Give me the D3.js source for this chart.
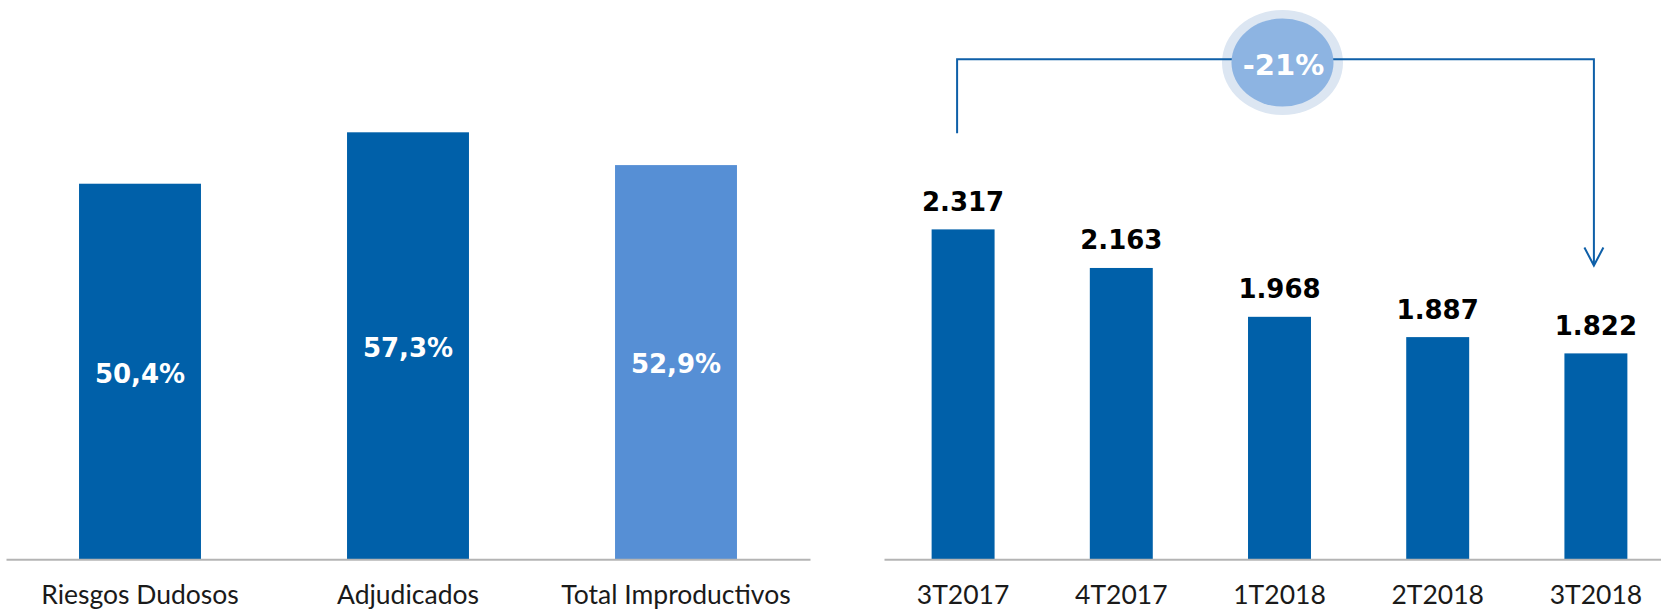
<!DOCTYPE html>
<html>
<head>
<meta charset="utf-8">
<script src="https://cdn.jsdelivr.net/npm/d3@7"></script>
<style>
  html, body { margin: 0; padding: 0; background: #ffffff; }
  svg { display: block; }
</style>
</head>
<body>
<svg id="chart" width="1661" height="610"></svg>
<script>
// ---- data ----
const coverageCategories = ["Riesgos Dudosos", "Adjudicados", "Total Improductivos"];
const coverageValues = [50.4, 57.3, 52.9];
const coverageLabels = ["50,4%", "57,3%", "52,9%"];

const quarterCategories = ["3T2017", "4T2017", "1T2018", "2T2018", "3T2018"];
const quarterValues = [2317, 2163, 1968, 1887, 1822];
const quarterLabels = ["2.317", "2.163", "1.968", "1.887", "1.822"];

const changeLabel = "-21%";

// ---- styles ----
const DARK = "#0060A9";
const LIGHT = "#568FD5";
const AXIS = "#B4B4B4";
const LINE = "#0E5FA8";
const catFont = "Lato, 'DejaVu Sans', sans-serif";
const valFont = "'DejaVu Sans', sans-serif";

const svg = d3.select("#chart");
const baseY = 559.3;

// ---- left chart ----
const xL = d3.scaleBand().domain(coverageCategories).range([6, 810])
  .paddingInner(0.545).paddingOuter(0.2725);
const yL = d3.scaleLinear().domain([0, 60]).range([baseY, baseY - 60 * 7.452]);

const gL = svg.append("g");
gL.selectAll("rect").data(coverageCategories).join("rect")
  .attr("x", d => xL(d))
  .attr("y", (d, i) => yL(coverageValues[i]))
  .attr("width", xL.bandwidth())
  .attr("height", (d, i) => yL(0) - yL(coverageValues[i]))
  .attr("fill", (d, i) => i === 2 ? LIGHT : DARK);

gL.selectAll("text.val").data(coverageCategories).join("text")
  .attr("class", "val")
  .attr("x", d => xL(d) + xL.bandwidth() / 2)
  .attr("y", (d, i) => (yL(coverageValues[i]) + yL(0)) / 2 + 11)
  .attr("text-anchor", "middle")
  .attr("font-family", valFont).attr("font-weight", "bold").attr("font-size", 26)
  .attr("fill", "#ffffff")
  .text((d, i) => coverageLabels[i]);

const axL = gL.append("g").attr("transform", `translate(0,${baseY})`)
  .call(d3.axisBottom(xL).tickSize(0).tickPadding(0));
axL.select(".domain").attr("stroke", AXIS).attr("stroke-width", 2);
axL.selectAll("text")
  .attr("y", 45).attr("dy", null)
  .attr("font-family", catFont).attr("font-size", 26.5).attr("fill", "#1a1a1a");

// ---- right chart ----
const xR = d3.scaleBand().domain(quarterCategories).range([884, 1675])
  .paddingInner(0.602).paddingOuter(0.301);
const yR = d3.scaleLinear().domain([1000, 2400]).range([baseY, baseY - 1400 * 0.2505]);

const gR = svg.append("g");
gR.selectAll("rect").data(quarterCategories).join("rect")
  .attr("x", d => xR(d))
  .attr("y", (d, i) => yR(quarterValues[i]))
  .attr("width", xR.bandwidth())
  .attr("height", (d, i) => yR(1000) - yR(quarterValues[i]))
  .attr("fill", DARK);

gR.selectAll("text.val").data(quarterCategories).join("text")
  .attr("class", "val")
  .attr("x", d => xR(d) + xR.bandwidth() / 2)
  .attr("y", (d, i) => yR(quarterValues[i]) - 18.5)
  .attr("text-anchor", "middle")
  .attr("font-family", valFont).attr("font-weight", "bold").attr("font-size", 26)
  .attr("fill", "#000000")
  .text((d, i) => quarterLabels[i]);

const axR = gR.append("g").attr("transform", `translate(0,${baseY})`)
  .call(d3.axisBottom(xR).tickSize(0).tickPadding(0));
axR.select(".domain").attr("stroke", AXIS).attr("stroke-width", 2);
axR.selectAll("text")
  .attr("y", 45).attr("dy", null)
  .attr("font-family", catFont).attr("font-size", 26.5).attr("fill", "#1a1a1a");

// ---- bracket annotation ----
const cx0 = xR(quarterCategories[0]) + xR.bandwidth() / 2 - 6;
const cx1 = xR(quarterCategories[4]) + xR.bandwidth() / 2 - 2;
const topY = 59.3;
const ecx = xR(quarterCategories[2]) + xR.bandwidth() / 2 + 3;
const ecy = 62.5;

const gA = svg.append("g");
gA.append("ellipse").attr("cx", ecx).attr("cy", ecy).attr("rx", 60.5).attr("ry", 52.5)
  .attr("fill", "#DCE6F2");
gA.append("path")
  .attr("d", d3.line()([[cx0, 133.3], [cx0, topY], [cx1, topY], [cx1, 265]]))
  .attr("fill", "none").attr("stroke", LINE).attr("stroke-width", 2);
gA.append("path")
  .attr("d", d3.line()([[cx1 - 9.5, 247.5], [cx1, 265.5], [cx1 + 9.5, 247.5]]))
  .attr("fill", "none").attr("stroke", LINE).attr("stroke-width", 2);
gA.append("ellipse").attr("cx", ecx).attr("cy", ecy).attr("rx", 51).attr("ry", 44)
  .attr("fill", "#8DB4E2");
gA.append("text").attr("x", ecx + 1).attr("y", 75)
  .attr("text-anchor", "middle")
  .attr("font-family", valFont).attr("font-weight", "bold").attr("font-size", 29)
  .attr("fill", "#ffffff")
  .text(changeLabel);
</script>
</body>
</html>
